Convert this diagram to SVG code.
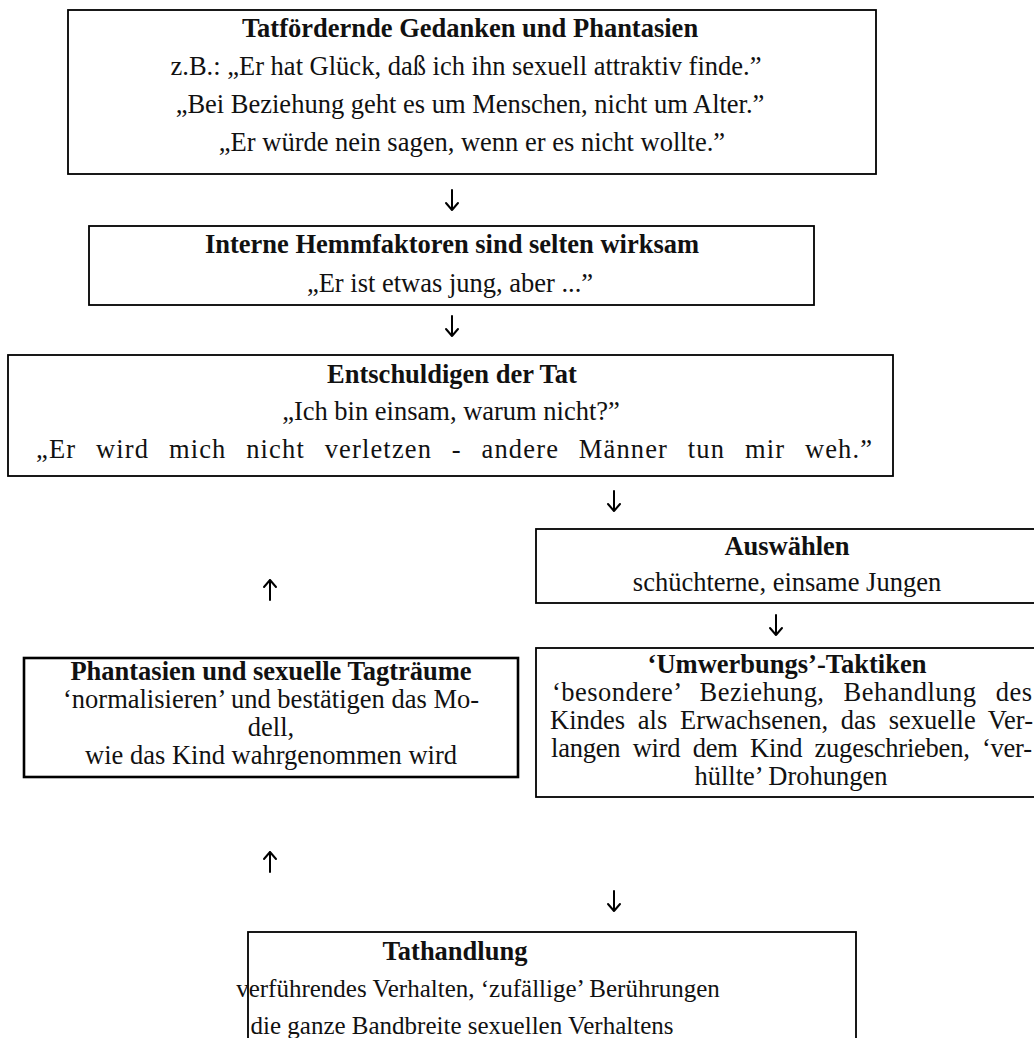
<svg xmlns="http://www.w3.org/2000/svg" width="1034" height="1038" viewBox="0 0 1034 1038">
  <style>
    .box { fill: #ffffff; stroke: #000000; stroke-width: 1.8; }
    .box-thick { fill: #ffffff; stroke: #000000; stroke-width: 2.6; }
    text { font-family: "Liberation Serif", "Times New Roman", serif; font-size: 26.5px; fill: #111111; text-anchor: middle; }
    .title { font-weight: bold; }
    .just { text-anchor: start; }
    .arrow { fill: none; stroke: #000000; stroke-width: 2; stroke-linecap: round; stroke-linejoin: round; }
  </style>
  <rect x="0" y="0" width="1034" height="1038" fill="#ffffff"/>

  <!-- flow nodes -->
  <g id="node-gedanken">
    <rect class="box" x="68" y="10" width="808" height="164"/>
    <text class="title" x="470" y="37">Tatfördernde Gedanken und Phantasien</text>
    <text x="466" y="75">z.B.: „Er hat Glück, daß ich ihn sexuell attraktiv finde.”</text>
    <text x="470" y="113">„Bei Beziehung geht es um Menschen, nicht um Alter.”</text>
    <text x="472" y="151">„Er würde nein sagen, wenn er es nicht wollte.”</text>
  </g>

  <g id="node-hemmfaktoren">
    <rect class="box" x="89" y="226" width="725" height="79"/>
    <text class="title" x="452" y="253">Interne Hemmfaktoren sind selten wirksam</text>
    <text x="450" y="292">„Er ist etwas jung, aber ...”</text>
  </g>

  <g id="node-entschuldigen">
    <rect class="box" x="8" y="355" width="885" height="121"/>
    <text class="title" x="452" y="383">Entschuldigen der Tat</text>
    <text x="451" y="420">„Ich bin einsam, warum nicht?”</text>
    <text class="just" x="36" y="458" word-spacing="12" textLength="836" lengthAdjust="spacing">„Er wird mich nicht verletzen - andere Männer tun mir weh.”</text>
  </g>

  <g id="node-auswaehlen">
    <rect class="box" x="536" y="529" width="510" height="74"/>
    <text class="title" x="787" y="555">Auswählen</text>
    <text x="787" y="591">schüchterne, einsame Jungen</text>
  </g>

  <g id="node-phantasien">
    <rect class="box-thick" x="24" y="658" width="494" height="119"/>
    <text class="title" x="271" y="680">Phantasien und sexuelle Tagträume</text>
    <text x="271" y="708">‘normalisieren’ und bestätigen das Mo-</text>
    <text x="271" y="736">dell,</text>
    <text x="271" y="764">wie das Kind wahrgenommen wird</text>
  </g>

  <g id="node-umwerbung">
    <rect class="box" x="536" y="648" width="510" height="149"/>
    <text class="title" x="787" y="673">‘Umwerbungs’-Taktiken</text>
    <text class="just" x="552" y="701" word-spacing="12" textLength="480" lengthAdjust="spacing">‘besondere’ Beziehung, Behandlung des</text>
    <text class="just" x="550" y="729" word-spacing="6" textLength="483" lengthAdjust="spacing">Kindes als Erwachsenen, das sexuelle Ver-</text>
    <text class="just" x="551" y="757" word-spacing="6" textLength="481" lengthAdjust="spacing">langen wird dem Kind zugeschrieben, ‘ver-</text>
    <text x="791" y="785">hüllte’ Drohungen</text>
  </g>

  <g id="node-tathandlung">
    <rect class="box" x="248" y="932" width="608" height="120"/>
    <text class="title" x="455" y="960">Tathandlung</text>
    <text x="478" y="997" style="font-size:25px">verführendes Verhalten, ‘zufällige’ Berührungen</text>
    <text x="462" y="1034" style="font-size:25px">die ganze Bandbreite sexuellen Verhaltens</text>
  </g>

  <!-- connectors: plain vertical arrows between the steps -->
  <g id="connectors">
    <path class="arrow" d="M452,190 V210 M446,203 L452,210 L458,203"/>
    <path class="arrow" d="M452,316 V336 M446,329 L452,336 L458,329"/>
    <path class="arrow" d="M614,491 V511 M608,504 L614,511 L620,504"/>
    <path class="arrow" d="M270,600 V580 M264,587 L270,580 L276,587"/>
    <path class="arrow" d="M776,615 V635 M770,628 L776,635 L782,628"/>
    <path class="arrow" d="M270,872 V852 M264,859 L270,852 L276,859"/>
    <path class="arrow" d="M614,891 V911 M608,904 L614,911 L620,904"/>
  </g>
</svg>
